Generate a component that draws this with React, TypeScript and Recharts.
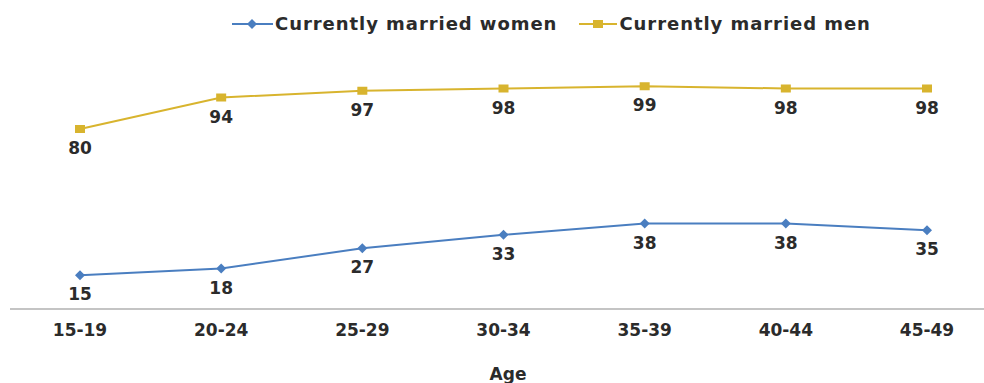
import { LineChart, Line, XAxis, YAxis, LabelList, Label } from "recharts";

const ageGroups = ["15-19", "20-24", "25-29", "30-34", "35-39", "40-44", "45-49"];
const womenValues = [15, 18, 27, 33, 38, 38, 35];
const menValues = [80, 94, 97, 98, 99, 98, 98];

const WOMEN = "#4A7EC0";
const MEN = "#D8B42E";
const TEXT = "#2b2b2b";
const FONT = "'DejaVu Sans', sans-serif";

const data = ageGroups.map((age, i) => ({
  age,
  women: womenValues[i],
  men: menValues[i],
}));

function Diamond({ cx, cy }: any) {
  if (cx == null || cy == null) return null;
  return (
    <path
      d={`M${cx},${cy - 5}L${cx + 5},${cy}L${cx},${cy + 5}L${cx - 5},${cy}Z`}
      fill={WOMEN}
    />
  );
}

function Square({ cx, cy }: any) {
  if (cx == null || cy == null) return null;
  return <rect x={cx - 5} y={cy - 4} width={10} height={8} fill={MEN} />;
}

const valueLabel = (props: any) => {
  const { x, y, value } = props;
  return (
    <text
      x={x}
      y={y + 25}
      textAnchor="middle"
      fill={TEXT}
      fontFamily={FONT}
      fontWeight="bold"
      fontSize={17}
    >
      {value}
    </text>
  );
};

const AgeTick = ({ x, y, payload }: any) => (
  <text
    x={x}
    y={y + 19}
    textAnchor="middle"
    fill={TEXT}
    fontFamily={FONT}
    fontWeight="bold"
    fontSize={17}
  >
    {payload.value}
  </text>
);

function LegendBox() {
  const textStyle = {
    fontFamily: FONT,
    fontWeight: 700,
    fontSize: 18,
    letterSpacing: 0.95,
    color: TEXT,
    lineHeight: "20px",
  };
  return (
    <div
      style={{
        position: "absolute",
        left: 232,
        top: 14,
        display: "flex",
        alignItems: "center",
        whiteSpace: "nowrap",
      }}
    >
      <svg width={41} height={12}>
        <line x1={0} y1={6} x2={41} y2={6} stroke={WOMEN} strokeWidth={2} />
        <path d="M20,1L25,6L20,11L15,6Z" fill={WOMEN} />
      </svg>
      <span style={{ ...textStyle, marginLeft: 2 }}>Currently married women</span>
      <svg width={38} height={12} style={{ marginLeft: 22 }}>
        <line x1={0} y1={6} x2={38} y2={6} stroke={MEN} strokeWidth={2} />
        <rect x={14} y={2} width={10} height={8} fill={MEN} />
      </svg>
      <span style={{ ...textStyle, marginLeft: 2 }}>Currently married men</span>
    </div>
  );
}

export default function App() {
  return (
    <div
      style={{
        position: "absolute",
        left: 0,
        top: 0,
        width: 984,
        height: 383,
        background: "#fff",
      }}
    >
      <LineChart
        width={984}
        height={383}
        data={data}
        margin={{ top: 84, right: 0, left: 10, bottom: 14 }}
      >
        <XAxis
          dataKey="age"
          interval={0}
          height={60}
          tickLine={false}
          axisLine={{ stroke: "#c4c4c4", strokeWidth: 2 }}
          padding={{ left: 70, right: 57 }}
          tick={<AgeTick />}
        >
          <Label
            content={({ viewBox }: any) => (
              <text
                x={viewBox.x + viewBox.width / 2 + 11}
                y={viewBox.y + 71}
                textAnchor="middle"
                fill={TEXT}
                fontFamily={FONT}
                fontWeight="bold"
                fontSize={17}
              >
                Age
              </text>
            )}
          />
        </XAxis>
        <YAxis hide domain={[0, 100]} />
        <Line
          type="linear"
          dataKey="men"
          stroke={MEN}
          strokeWidth={2}
          dot={<Square />}
          activeDot={false}
          isAnimationActive={false}
        >
          <LabelList dataKey="men" content={valueLabel} />
        </Line>
        <Line
          type="linear"
          dataKey="women"
          stroke={WOMEN}
          strokeWidth={2}
          dot={<Diamond />}
          activeDot={false}
          isAnimationActive={false}
        >
          <LabelList dataKey="women" content={valueLabel} />
        </Line>
      </LineChart>
      <LegendBox />
    </div>
  );
}
